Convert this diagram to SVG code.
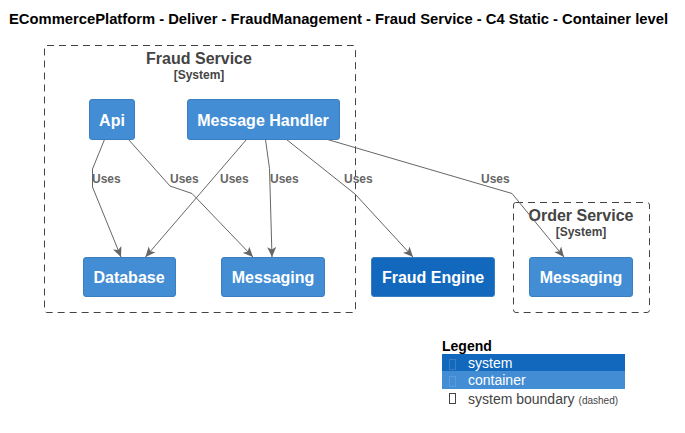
<svg xmlns="http://www.w3.org/2000/svg" width="685" height="433" viewBox="0 0 685 433">
<defs>
<marker id="arr" viewBox="0 0 10 10" refX="10" refY="5" markerWidth="10" markerHeight="10" markerUnits="userSpaceOnUse" orient="auto">
<path d="M0,0.5 L10,5 L0,9.5 L2.5,5 Z" fill="#666666"/>
</marker>
<style>
text{font-family:"Liberation Sans",Arial,sans-serif}
.title{font-size:14px;font-weight:bold;fill:#000}
.bound{fill:none;stroke:#444444;stroke-width:1;stroke-dasharray:7,5}
.btitle{font-size:16px;font-weight:bold;fill:#444444;text-anchor:middle}
.btype{font-size:12px;font-weight:bold;fill:#444444;text-anchor:middle}
.cont{fill:#438DD5;stroke:#3C7FC0;stroke-width:1}
.sys{fill:#1168BD;stroke:#3C7FC0;stroke-width:1}
.ntext{font-size:16px;font-weight:bold;fill:#FFFFFF;text-anchor:middle}
.edge{fill:none;stroke:#666666;stroke-width:1;marker-end:url(#arr)}
.elabel{font-size:12px;font-weight:bold;fill:#666666}
.lgtitle{font-size:14px;font-weight:bold;fill:#000}
.lgtext{font-size:14px;fill:#FFFFFF}
.lgtext2{font-size:14px;fill:#444444}
.lgsmall{font-size:10px;fill:#444444}
</style>
</defs>
<rect width="685" height="433" fill="#FFFFFF"/>
<text class="title" x="9" y="24" textLength="659" lengthAdjust="spacingAndGlyphs">ECommercePlatform - Deliver - FraudManagement - Fraud Service - C4 Static - Container level</text>

<g id="boundary-fraud-service">
<rect class="bound" x="44.5" y="45.5" width="311" height="267" rx="2.5"/>
<text class="btitle" x="199" y="64">Fraud Service</text>
<text class="btype" x="199" y="79">[System]</text>
</g>
<g id="boundary-order-service">
<rect class="bound" x="513.5" y="202.5" width="136" height="110" rx="2.5"/>
<text class="btitle" x="581" y="221">Order Service</text>
<text class="btype" x="581" y="236">[System]</text>
</g>

<g id="edges">
<polyline class="edge" points="104.5,139.5 92.5,169 92.5,187 121,257"/>
<text class="elabel" x="92" y="183">Uses</text>
<polyline class="edge" points="128.5,139.5 170,186 192,193.5 253,257"/>
<text class="elabel" x="170" y="183">Uses</text>
<polyline class="edge" points="246.5,139.5 145.5,257"/>
<text class="elabel" x="220" y="183">Uses</text>
<polyline class="edge" points="265.5,139.5 269.5,168.5 272,257"/>
<text class="elabel" x="270" y="183">Uses</text>
<polyline class="edge" points="286.5,139.5 355,194 413,257"/>
<text class="elabel" x="344" y="183">Uses</text>
<polyline class="edge" points="327.5,139.5 512,193.5 564,257"/>
<text class="elabel" x="481" y="183">Uses</text>
</g>

<g id="node-api">
<rect class="cont" x="89.5" y="99.5" width="45" height="40" rx="2.5"/>
<text class="ntext" x="112" y="126">Api</text>
</g>
<g id="node-message-handler">
<rect class="cont" x="187.5" y="99.5" width="152" height="40" rx="2.5"/>
<text class="ntext" x="263" y="126">Message Handler</text>
</g>
<g id="node-database">
<rect class="cont" x="83.5" y="257.5" width="92" height="39" rx="2.5"/>
<text class="ntext" x="129" y="283">Database</text>
</g>
<g id="node-messaging">
<rect class="cont" x="221.5" y="257.5" width="103" height="39" rx="2.5"/>
<text class="ntext" x="273" y="283">Messaging</text>
</g>
<g id="node-fraud-engine">
<rect class="sys" x="371.5" y="257.5" width="123" height="39" rx="2.5"/>
<text class="ntext" x="433" y="283">Fraud Engine</text>
</g>
<g id="node-order-messaging">
<rect class="cont" x="529.5" y="257.5" width="103" height="39" rx="2.5"/>
<text class="ntext" x="581" y="283">Messaging</text>
</g>

<g id="legend">
<text class="lgtitle" x="442" y="351">Legend</text>
<rect x="442" y="354" width="183" height="17" fill="#1168BD"/>
<rect x="449.5" y="359.5" width="6" height="10" fill="none" stroke="#3C7FC0" stroke-width="1"/>
<text class="lgtext" x="468" y="368">system</text>
<rect x="442" y="371" width="183" height="18" fill="#438DD5"/>
<rect x="449.5" y="376.5" width="6" height="10" fill="none" stroke="#5A9BDB" stroke-width="1"/>
<text class="lgtext" x="468" y="385">container</text>
<rect x="449.5" y="393.5" width="6" height="10" fill="none" stroke="#444444" stroke-width="1"/>
<text x="468" y="404"><tspan class="lgtext2">system boundary</tspan><tspan class="lgsmall" dx="4">(dashed)</tspan></text>
</g>
</svg>
